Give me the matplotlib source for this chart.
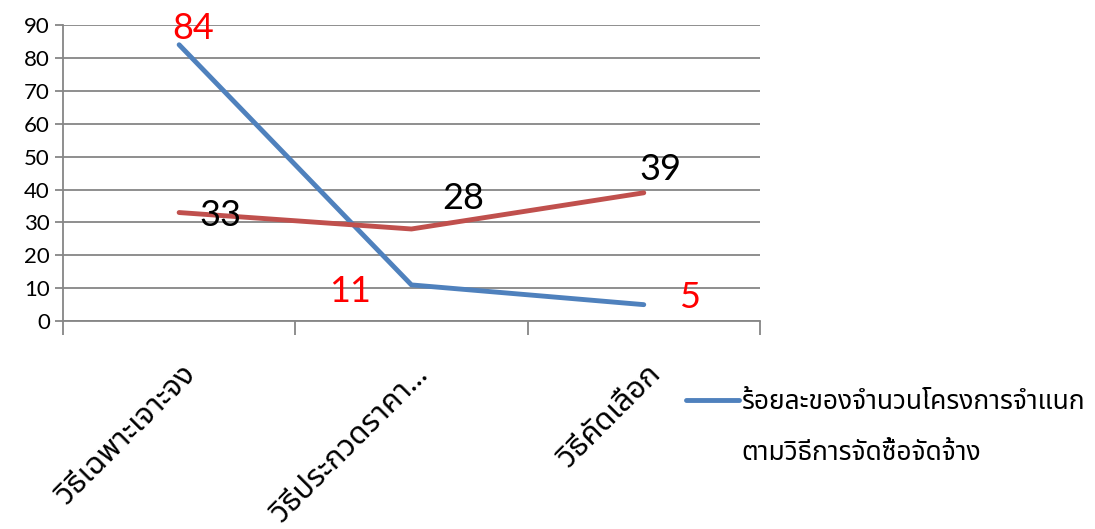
import matplotlib.pyplot as plt
from matplotlib.lines import Line2D

plt.rcParams['font.family'] = ['Lato', 'Noto Sans Thai', 'Loma', 'Garuda', 'Norasi', 'DejaVu Sans']

categories = ['วิธีเฉพาะเจาะจง', 'วิธีประกวดราคา...', 'วิธีคัดเลือก']
percent_share = [84, 11, 5]
project_count = [33, 28, 39]
legend_lines = ['ร้อยละของจำนวนโครงการจำแนก', 'ตามวิธีการจัดซื้อจัดจ้าง']

blue = '#4F81BD'
red = '#C0504D'
grid_grey = '#868686'

fig = plt.figure(figsize=(10.95, 5.29), dpi=100)
ax = fig.add_axes([0.0575, 0.393, 0.6365, 0.5597])

x = [i + 0.5 for i in range(len(categories))]
blue_line, = ax.plot(x, percent_share, color=blue, lw=3.5, solid_capstyle='round')
ax.plot(x, project_count, color=red, lw=3.5, solid_capstyle='round')

# value labels, offsets in points
blue_offsets = [(10, 12), (-44, -5), (33, 5)]
red_offsets = [(30, -2), (37, 22), (12, 17)]
for xi, v, off in zip(x, percent_share, blue_offsets):
    ax.annotate(str(v), (xi, v), xytext=off, textcoords='offset points',
                ha='center', va='center', fontsize=26, color='red')
for xi, v, off in zip(x, project_count, red_offsets):
    ax.annotate(str(v), (xi, v), xytext=off, textcoords='offset points',
                ha='center', va='center', fontsize=26, color='black')

ax.set_xlim(0, len(categories))
ax.set_ylim(0, 90)
ax.set_yticks(range(0, 91, 10))
ax.set_xticks(range(len(categories) + 1))
ax.set_xticklabels([])
ax.yaxis.grid(True, color=grid_grey, lw=1.3)
ax.set_axisbelow(True)
for side in ['top', 'right']:
    ax.spines[side].set_visible(False)
for side in ['left', 'bottom']:
    ax.spines[side].set_color(grid_grey)
    ax.spines[side].set_linewidth(1.3)
ax.tick_params(axis='both', color=grid_grey, width=1.3, length=6, labelsize=16)
ax.tick_params(axis='x', length=10)

for xi, name in zip(x, categories):
    ax.annotate(name, (xi, 0), xytext=(2, -28), textcoords='offset points',
                rotation=45, ha='right', va='top', rotation_mode='anchor',
                fontsize=22, annotation_clip=False)

# legend entry wraps onto a second row with no handle
spacer = Line2D([], [], color='none')
fig.legend(handles=[blue_line, spacer], labels=legend_lines, loc='upper left',
           bbox_to_anchor=(0.605, 0.31), bbox_transform=fig.transFigure,
           frameon=False, fontsize=19, handlelength=2.0,
           handletextpad=0.1, labelspacing=1.0)

fig.savefig('out.png', dpi=100)
